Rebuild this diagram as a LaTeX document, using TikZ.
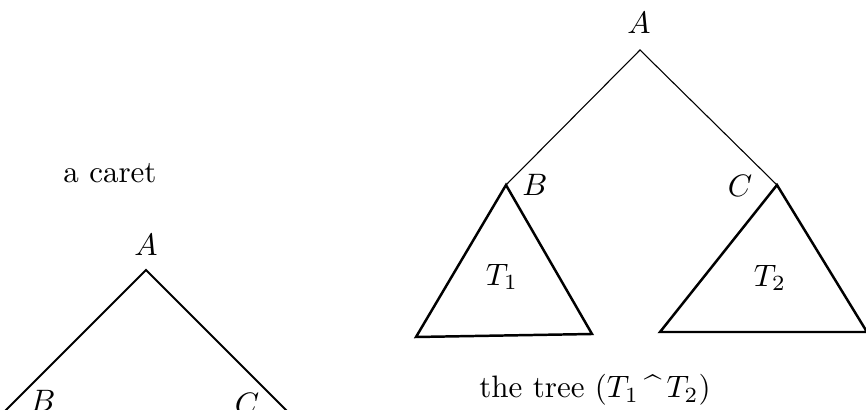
\documentclass[tikz,border=0pt]{standalone}
\begin{document}
\begin{tikzpicture}[x=0.3226pt,y=-0.3226pt,
  lbl/.style={inner sep=0pt,font=\normalsize},
  caretline/.style={line width=0.6pt},
  thinline/.style={line width=0.35pt},
  triline/.style={line width=0.8pt,line join=miter}]
\useasboundingbox (0,0) rectangle (866,410);
\clip (0,0) rectangle (866,410);
% left caret
\node[lbl] (capt1) at (110,173) {a caret};
\node[lbl] (lA) at (146,245) {$A$};
\coordinate (cA) at (146,270);
\coordinate (cB) at (5,411);
\coordinate (cC) at (287,411);
\node[lbl] (lB) at (43,401) {$B$};
\node[lbl] (lC) at (247,404) {$C$};
\draw[caretline] (cB) -- (cA) -- (cC);
% right tree
\node[lbl] (rA) at (639,23) {$A$};
\coordinate (tA) at (640,50);
\coordinate (tB) at (506,185);
\coordinate (tC) at (777,185);
\draw[thinline] (tB) -- (tA) -- (tC);
\node[lbl] (rB) at (535,185) {$B$};
\node[lbl] (rC) at (740,186) {$C$};
% triangles
\coordinate (t1l) at (416,337);
\coordinate (t1r) at (592,334);
\coordinate (t2l) at (660,332);
\coordinate (t2r) at (867,332);
\draw[triline] (tB) -- (t1r) -- (t1l) -- cycle;
\draw[triline] (t2r) -- (tC) -- (t2l) -- (t2r);
\node[lbl] (T1) at (502,277) {$T_1$};
\node[lbl] (T2) at (770,278) {$T_2$};
\node[lbl] (capt2) at (595,390) {the tree $(T_1\,$\^{}$\,T_2)$};
\end{tikzpicture}
\end{document}
